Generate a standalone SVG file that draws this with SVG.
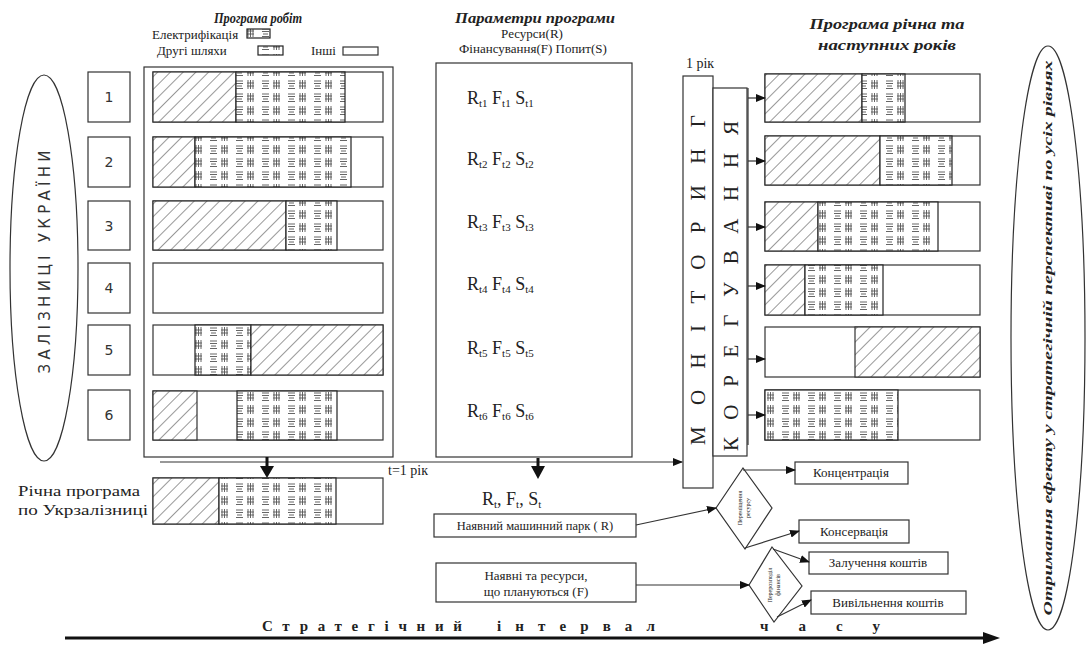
<svg xmlns="http://www.w3.org/2000/svg" width="1090" height="646" viewBox="0 0 1090 646">
<style>
.sf{font-family:"Liberation Serif","DejaVu Serif",serif;fill:#222}
.ss{font-family:"DejaVu Sans","Liberation Sans",sans-serif;fill:#333}
.ti{font-weight:bold;font-style:italic;font-size:15px}
.bx{fill:#fff;stroke:#333;stroke-width:1.2}
.ln{fill:none;stroke:#333;stroke-width:1.2}
.h{fill:url(#hatch);stroke:#333;stroke-width:1.2}
.p{fill:url(#pt);stroke:#222;stroke-width:1.2}
.o{fill:none;stroke:#333;stroke-width:1.2}
</style>
<defs>
<pattern id="hatch" width="9" height="9" patternUnits="userSpaceOnUse" patternTransform="rotate(45)">
<rect width="9" height="9" fill="#fff"/>
<line x1="0" y1="0" x2="0" y2="9" stroke="#333" stroke-width="1"/>
</pattern>
<pattern id="pt" width="26" height="13" patternUnits="userSpaceOnUse">
<rect width="26" height="13" fill="#fff"/>
<path d="M2 3h7M2 5.5h7M3 8h5M2 10.5h7" stroke="#555" stroke-width="0.9"/>
<path d="M14 2v9M16.5 2v9M19 2v9M13 5h7M13 8h7" stroke="#555" stroke-width="0.9"/>
</pattern>
<marker id="ah" markerWidth="10" markerHeight="8" refX="9" refY="4" orient="auto" markerUnits="userSpaceOnUse">
<path d="M0,0 L10,4 L0,8 z" fill="#111"/>
</marker>
</defs>
<rect width="1090" height="646" fill="#fff"/>

<g id="left-ellipse">
<ellipse cx="44" cy="268" rx="34" ry="193" class="o"/>
<text class="ss" font-size="15" text-anchor="middle" transform="translate(50,262) rotate(-90)" textLength="223" lengthAdjust="spacing">ЗАЛІЗНИЦІ УКРАЇНИ</text>
</g>

<g id="numbers">
<rect x="88" y="72" width="42" height="50" class="bx"/><text x="109" y="102" class="ss" font-size="14" text-anchor="middle">1</text>
<rect x="88" y="137" width="42" height="50" class="bx"/><text x="109" y="167" class="ss" font-size="14" text-anchor="middle">2</text>
<rect x="88" y="201" width="42" height="49" class="bx"/><text x="109" y="231" class="ss" font-size="14" text-anchor="middle">3</text>
<rect x="88" y="263" width="42" height="50" class="bx"/><text x="109" y="293" class="ss" font-size="14" text-anchor="middle">4</text>
<rect x="88" y="325" width="42" height="50" class="bx"/><text x="109" y="355" class="ss" font-size="14" text-anchor="middle">5</text>
<rect x="88" y="390" width="42" height="50" class="bx"/><text x="109" y="420" class="ss" font-size="14" text-anchor="middle">6</text>
</g>

<g id="program-works">
<text x="258" y="23" class="sf ti" text-anchor="middle" textLength="88" lengthAdjust="spacingAndGlyphs">Програма робіт</text>
<text x="152" y="39" class="sf" font-size="13">Електрифікація</text>
<rect x="247" y="29" width="23" height="9" class="p"/>
<text x="157" y="55" class="sf" font-size="13">Другі шляхи</text>
<rect x="258" y="46" width="25" height="9" class="p"/>
<text x="311" y="55" class="sf" font-size="13">Інші</text>
<rect x="343" y="47" width="35" height="8" class="bx"/>
<rect x="144" y="67" width="249" height="390" class="bx"/>
<rect x="153" y="72" width="230" height="50" class="bx"/>
<rect x="153" y="72" width="83" height="50" class="h"/>
<rect x="236" y="72" width="109" height="50" class="p"/>
<rect x="153" y="137" width="230" height="50" class="bx"/>
<rect x="153" y="137" width="42" height="50" class="h"/>
<rect x="195" y="137" width="156" height="50" class="p"/>
<rect x="153" y="201" width="230" height="49" class="bx"/>
<rect x="153" y="201" width="133" height="49" class="h"/>
<rect x="286" y="201" width="51" height="49" class="p"/>
<rect x="153" y="263" width="230" height="50" class="bx"/>
<rect x="153" y="325" width="230" height="50" class="bx"/>
<rect x="195" y="325" width="56" height="50" class="p"/>
<rect x="251" y="325" width="132" height="50" class="h"/>
<rect x="153" y="391" width="230" height="49" class="bx"/>
<rect x="153" y="391" width="44" height="49" class="h"/>
<rect x="237" y="391" width="100" height="49" class="p"/>
</g>

<g id="annual-program">
<text x="18" y="496" class="sf" font-size="15" textLength="122" lengthAdjust="spacingAndGlyphs">Річна програма</text>
<text x="18" y="515" class="sf" font-size="15" textLength="130" lengthAdjust="spacingAndGlyphs">по Укрзалізниці</text>
<rect x="153" y="478" width="230" height="46" class="bx"/>
<rect x="153" y="478" width="66" height="46" class="h"/>
<rect x="219" y="478" width="117" height="46" class="p"/>
</g>

<g id="parameters">
<text x="535" y="23" class="sf ti" text-anchor="middle" textLength="160" lengthAdjust="spacingAndGlyphs">Параметри програми</text>
<text x="532" y="38" class="sf" font-size="13" text-anchor="middle">Ресурси(R)</text>
<text x="533" y="53" class="sf" font-size="13" text-anchor="middle">Фінансування(F)   Попит(S)</text>
<rect x="436" y="63" width="196" height="394" class="bx"/>
<g class="sf" font-size="18">
<text x="467" y="104">R<tspan font-size="11" dy="3">t1</tspan><tspan dy="-3"> F</tspan><tspan font-size="11" dy="3">t1</tspan><tspan dy="-3"> S</tspan><tspan font-size="11" dy="3">t1</tspan></text>
<text x="467" y="165">R<tspan font-size="11" dy="3">t2</tspan><tspan dy="-3"> F</tspan><tspan font-size="11" dy="3">t2</tspan><tspan dy="-3"> S</tspan><tspan font-size="11" dy="3">t2</tspan></text>
<text x="467" y="228">R<tspan font-size="11" dy="3">t3</tspan><tspan dy="-3"> F</tspan><tspan font-size="11" dy="3">t3</tspan><tspan dy="-3"> S</tspan><tspan font-size="11" dy="3">t3</tspan></text>
<text x="467" y="290">R<tspan font-size="11" dy="3">t4</tspan><tspan dy="-3"> F</tspan><tspan font-size="11" dy="3">t4</tspan><tspan dy="-3"> S</tspan><tspan font-size="11" dy="3">t4</tspan></text>
<text x="467" y="354">R<tspan font-size="11" dy="3">t5</tspan><tspan dy="-3"> F</tspan><tspan font-size="11" dy="3">t5</tspan><tspan dy="-3"> S</tspan><tspan font-size="11" dy="3">t5</tspan></text>
<text x="467" y="417">R<tspan font-size="11" dy="3">t6</tspan><tspan dy="-3"> F</tspan><tspan font-size="11" dy="3">t6</tspan><tspan dy="-3"> S</tspan><tspan font-size="11" dy="3">t6</tspan></text>
<text x="482" y="505">R<tspan font-size="11" dy="3">t</tspan><tspan dy="-3">,  F</tspan><tspan font-size="11" dy="3">t</tspan><tspan dy="-3">,  S</tspan><tspan font-size="11" dy="3">t</tspan></text>
</g>
</g>

<g id="machine-park">
<rect x="434" y="514" width="202" height="23" class="bx"/>
<text x="535" y="530" class="sf" font-size="12.5" text-anchor="middle">Наявний машинний парк ( R)</text>
</g>
<g id="resources">
<rect x="436" y="563" width="200" height="39" class="bx"/>
<text x="536" y="580" class="sf" font-size="13" text-anchor="middle">Наявні та ресурси,</text>
<text x="536" y="596" class="sf" font-size="13" text-anchor="middle">що плануються (F)</text>
</g>

<g id="monitoring">
<text x="700" y="68" class="sf" font-size="14" text-anchor="middle">1 рік</text>
<rect x="683" y="76" width="30" height="412" class="bx"/>
<text class="sf" font-size="21" text-anchor="middle" transform="translate(705,280) rotate(-90)" textLength="330" lengthAdjust="spacing">МОНІТОРИНГ</text>
</g>
<g id="correction">
<rect x="713" y="88" width="34" height="368" class="bx"/>
<text class="sf" font-size="21" text-anchor="middle" transform="translate(738,286) rotate(-90)" textLength="330" lengthAdjust="spacing">КОРЕГУВАННЯ</text>
</g>

<g id="next-years">
<text x="887" y="29" class="sf ti" text-anchor="middle" textLength="155" lengthAdjust="spacingAndGlyphs">Програма річна та</text>
<text x="887" y="50" class="sf ti" text-anchor="middle" textLength="138" lengthAdjust="spacingAndGlyphs">наступних років</text>
<rect x="765" y="74" width="215" height="48" class="bx"/>
<rect x="765" y="74" width="97" height="48" class="h"/>
<rect x="862" y="74" width="43" height="48" class="p"/>
<rect x="765" y="136" width="215" height="49" class="bx"/>
<rect x="765" y="136" width="115" height="49" class="h"/>
<rect x="880" y="136" width="72" height="49" class="p"/>
<rect x="765" y="202" width="215" height="49" class="bx"/>
<rect x="765" y="202" width="53" height="49" class="h"/>
<rect x="818" y="202" width="120" height="49" class="p"/>
<rect x="765" y="265" width="215" height="50" class="bx"/>
<rect x="765" y="265" width="40" height="50" class="h"/>
<rect x="805" y="265" width="78" height="50" class="p"/>
<rect x="765" y="327" width="215" height="50" class="bx"/>
<rect x="855" y="327" width="125" height="50" class="h"/>
<rect x="765" y="390" width="215" height="50" class="bx"/>
<rect x="765" y="390" width="133" height="50" class="p"/>
</g>

<g id="right-ellipse">
<ellipse cx="1048" cy="338" rx="37" ry="292" class="o"/>
<text class="sf" font-size="12" font-weight="bold" font-style="italic" text-anchor="middle" transform="translate(1052,338) rotate(-90)" textLength="555" lengthAdjust="spacingAndGlyphs">Отримання ефекту у стратегічній перспективі по усіх рівнях</text>
</g>

<g id="diamond-1">
<polygon points="716,508 743,468 772,508 745,549" class="bx"/>
<text class="sf" font-size="6" text-anchor="middle" transform="translate(742,508) rotate(-90)">Переміщення</text>
<text class="sf" font-size="6" text-anchor="middle" transform="translate(750,508) rotate(-90)">ресурсу</text>
</g>
<g id="diamond-2">
<polygon points="749,585 772,547 802,586 774,622" class="bx"/>
<text class="sf" font-size="6" text-anchor="middle" transform="translate(772,585) rotate(-90)">Перерозподіл</text>
<text class="sf" font-size="6" text-anchor="middle" transform="translate(780,585) rotate(-90)">фінансів</text>
</g>

<g id="concentration"><rect x="795" y="462" width="113" height="22" class="bx"/><text x="851" y="477" class="sf" font-size="13" text-anchor="middle">Концентрація</text></g>
<g id="conservation"><rect x="799" y="520" width="110" height="23" class="bx"/><text x="854" y="536" class="sf" font-size="13" text-anchor="middle">Консервація</text></g>
<g id="attract"><rect x="809" y="552" width="139" height="22" class="bx"/><text x="878" y="567" class="sf" font-size="13" text-anchor="middle">Залучення коштів</text></g>
<g id="release"><rect x="811" y="591" width="155" height="23" class="bx"/><text x="888" y="607" class="sf" font-size="13" text-anchor="middle">Вивільнення коштів</text></g>

<g id="time-axis">
<text x="262" y="631" class="sf" font-size="15" font-weight="bold" textLength="200" lengthAdjust="spacing">Стратегічний</text>
<text x="497" y="631" class="sf" font-size="15" font-weight="bold" textLength="158" lengthAdjust="spacing">інтервал</text>
<text x="760" y="631" class="sf" font-size="15" font-weight="bold" textLength="120" lengthAdjust="spacing">часу</text>
<text x="388" y="475" class="sf" font-size="14">t=1 рік</text>
</g>

<g id="connectors">
<line x1="160" y1="462" x2="682" y2="462" class="ln" marker-end="url(#ah)"/>
<line x1="267" y1="457" x2="267" y2="468" stroke="#111" stroke-width="3"/>
<polygon points="260,466 274,466 267,478" fill="#111"/>
<line x1="538" y1="458" x2="538" y2="468" stroke="#111" stroke-width="3"/>
<polygon points="531,466 545,466 538,479" fill="#111"/>
<line x1="748" y1="88" x2="748" y2="445" class="ln"/>
<line x1="748" y1="98" x2="765" y2="98" class="ln" marker-end="url(#ah)"/>
<line x1="748" y1="161" x2="765" y2="161" class="ln" marker-end="url(#ah)"/>
<line x1="748" y1="227" x2="765" y2="227" class="ln" marker-end="url(#ah)"/>
<line x1="748" y1="286" x2="765" y2="286" class="ln" marker-end="url(#ah)"/>
<line x1="748" y1="359" x2="765" y2="359" class="ln" marker-end="url(#ah)"/>
<line x1="748" y1="415" x2="765" y2="415" class="ln" marker-end="url(#ah)"/>
<line x1="636" y1="525" x2="716" y2="508" class="ln" marker-end="url(#ah)"/>
<line x1="636" y1="585" x2="749" y2="585" class="ln" marker-end="url(#ah)"/>
<line x1="743" y1="470" x2="795" y2="470" class="ln" marker-end="url(#ah)"/>
<line x1="745" y1="548" x2="799" y2="531" class="ln" marker-end="url(#ah)"/>
<line x1="773" y1="549" x2="809" y2="562" class="ln" marker-end="url(#ah)"/>
<line x1="777" y1="617" x2="811" y2="600" class="ln" marker-end="url(#ah)"/>
<line x1="65" y1="638" x2="985" y2="638" stroke="#111" stroke-width="3"/>
<polygon points="983,632 1000,638 983,644" fill="#111"/>
</g>
</svg>
